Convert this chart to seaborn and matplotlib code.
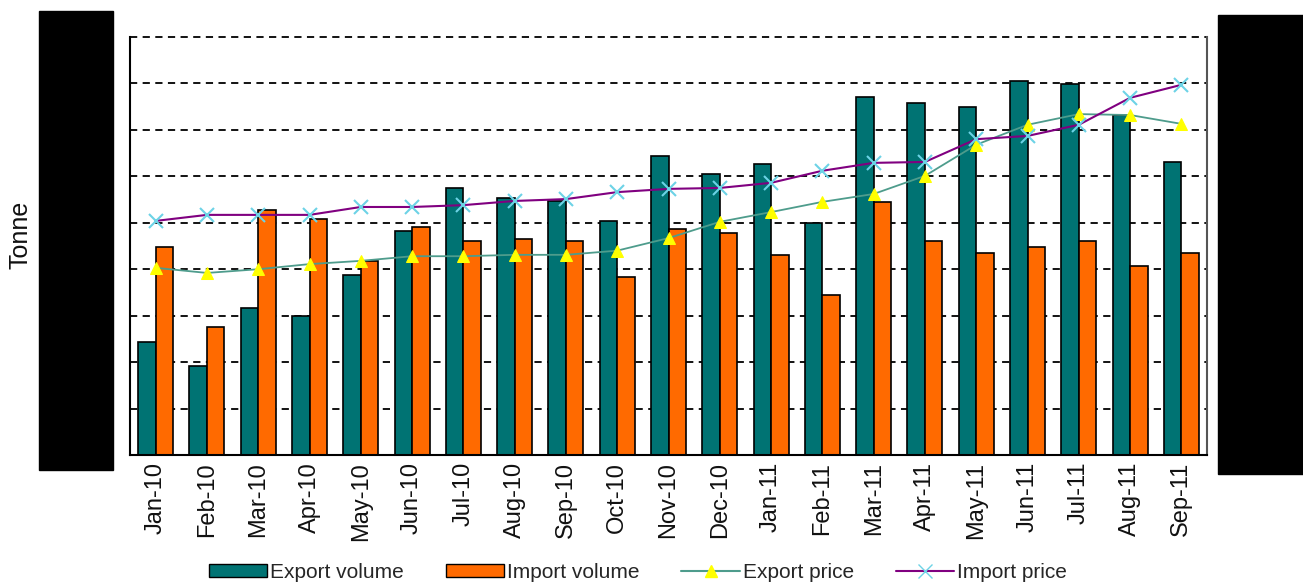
import pandas as pd
import numpy as np
import matplotlib
matplotlib.use('Agg')
import matplotlib.pyplot as plt
import matplotlib.patches as mpatches
from matplotlib.lines import Line2D
import seaborn as sns

# Data (units = gridline steps, axis labels are hidden)
months = ['Jan-10', 'Feb-10', 'Mar-10', 'Apr-10', 'May-10', 'Jun-10', 'Jul-10',
          'Aug-10', 'Sep-10', 'Oct-10', 'Nov-10', 'Dec-10', 'Jan-11', 'Feb-11',
          'Mar-11', 'Apr-11', 'May-11', 'Jun-11', 'Jul-11', 'Aug-11', 'Sep-11']
export_volume = [2.43, 1.92, 3.17, 2.99, 3.88, 4.82, 5.75, 5.53, 5.47, 5.04, 6.44,
                 6.05, 6.27, 5.00, 7.71, 7.58, 7.49, 8.05, 7.99, 7.32, 6.31]
import_volume = [4.48, 2.76, 5.28, 5.08, 4.18, 4.91, 4.61, 4.65, 4.61, 3.83, 4.87,
                 4.78, 4.31, 3.45, 5.45, 4.61, 4.35, 4.48, 4.61, 4.07, 4.35]
export_price = [4.03, 3.92, 4.00, 4.11, 4.18, 4.28, 4.28, 4.31, 4.31, 4.40, 4.67,
                5.02, 5.23, 5.45, 5.62, 6.01, 6.68, 7.11, 7.34, 7.32, 7.13]
import_price = [5.04, 5.17, 5.17, 5.17, 5.34, 5.34, 5.38, 5.47, 5.51, 5.66, 5.73,
                5.75, 5.86, 6.12, 6.29, 6.31, 6.80, 6.87, 7.11, 7.69, 7.97]

teal = '#007373'
orange = '#FF6A00'

sns.set_theme(style='white')
plt.rcParams['font.family'] = ['Liberation Sans', 'DejaVu Sans']

df = pd.DataFrame({'Month': months * 2,
                   'Value': export_volume + import_volume,
                   'Series': ['Export volume'] * len(months) + ['Import volume'] * len(months)})

fig = plt.figure(figsize=(13.03, 5.82), dpi=100)
ax = fig.add_axes([130 / 1303, 1 - 455 / 582, (1207 - 130) / 1303, (455 - 37) / 582])

sns.barplot(data=df, x='Month', y='Value', hue='Series', order=months,
            palette=[teal, orange], width=0.68, edgecolor='black', linewidth=1.2,
            saturation=1, ax=ax, legend=False)

sns.lineplot(x=months, y=export_price, ax=ax, color='#4E9C8C', lw=1.3,
             marker='^', markersize=9, markerfacecolor='#FFFF00',
             markeredgecolor='#FFFF00', sort=False)
sns.lineplot(x=months, y=import_price, ax=ax, color='#800080', lw=1.5,
             marker='x', markersize=10, markeredgecolor='#6CD3E6',
             markeredgewidth=1.5, sort=False)

ax.set_ylim(0, 9)
ax.set_xlim(-0.5, len(months) - 0.5)
ax.set_yticks(np.arange(0, 10))
ax.yaxis.grid(True, color='black', linestyle=(0, (4, 3)), lw=1.3)
for gl in ax.get_ygridlines():
    gl.set_clip_on(False)
ax.set_axisbelow(True)
ax.set_yticklabels([])
ax.set_xlabel('')
ax.set_ylabel('')
ax.tick_params(axis='x', length=0, pad=5, labelsize=17, rotation=90)
ax.tick_params(axis='y', length=0)
for side in ['left', 'bottom']:
    ax.spines[side].set_color('black')
    ax.spines[side].set_linewidth(1.5)
ax.spines['top'].set_visible(False)
ax.spines['right'].set_color('#555555')
ax.spines['right'].set_linewidth(1.5)
for lbl in ax.get_xticklabels():
    lbl.set_color('#111111')

fig.text(20 / 1303, 1 - 235 / 582, 'Tonne', rotation=90, ha='center', va='center',
         fontsize=18, color='#111111')

# black boxes covering the value axes
fig.patches.append(mpatches.Rectangle((39 / 1303, 1 - 470 / 582), 74 / 1303, 459 / 582,
                                      transform=fig.transFigure, color='black', zorder=10))
fig.patches.append(mpatches.Rectangle((1218 / 1303, 1 - 474 / 582), 85 / 1303, 459 / 582,
                                      transform=fig.transFigure, color='black', zorder=10))

handles = [mpatches.Patch(facecolor=teal, edgecolor='black', label='Export volume'),
           mpatches.Patch(facecolor=orange, edgecolor='black', label='Import volume'),
           Line2D([], [], color='#4E9C8C', marker='^', markersize=9,
                  markerfacecolor='#FFFF00', markeredgecolor='#FFFF00', label='Export price'),
           Line2D([], [], color='#800080', marker='x', markersize=10,
                  markeredgecolor='#6CD3E6', label='Import price')]
fig.legend(handles=handles, loc='center', bbox_to_anchor=(638 / 1303, 1 - 572 / 582),
           ncol=4, frameon=False, fontsize=15, handlelength=2.8, handleheight=0.6,
           handletextpad=0.15, columnspacing=2.0, borderpad=0)

fig.savefig('out.png', dpi=100)
